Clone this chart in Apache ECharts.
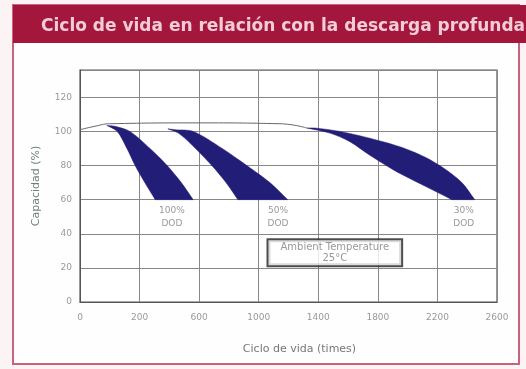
<!DOCTYPE html>
<html>
<head>
<meta charset="utf-8">
<script src="https://cdn.jsdelivr.net/npm/echarts@6/dist/echarts.min.js"></script>
<style>
html,body{margin:0;padding:0;background:#fcf3f5;}
#chart{width:526px;height:369px;}
</style>
</head>
<body>
<div id="chart"></div>
<script>
// Tick labels as printed on the reference x axis (one per grid column)
const xTickLabels = ['0', '200', '600', '1000', '1400', '1800', '2200', '2600'];

// Band outlines (axis units: x on the 0..2800 scale, y = capacity %)
// 100% DOD
const dod100LeftX  = [180, 250, 315, 370, 435, 505];
const dod100LeftY  = [103.5, 100, 90, 80, 70, 60];
const dod100RightX = [760, 680, 585, 470, 335, 235];
const dod100RightY = [60, 70, 80, 90, 100, 103];
// 50% DOD
const dod50LeftX  = [590, 660, 740, 885, 980, 1060];
const dod50LeftY  = [101.5, 99, 93, 80, 70, 60];
const dod50RightX = [1395, 1275, 1120, 955, 760, 640];
const dod50RightY = [60, 70, 80, 90, 100, 101];
// 30% DOD
const dod30LeftX  = [1523, 1678, 1812, 1946, 2114, 2315, 2497];
const dod30LeftY  = [102, 99, 94, 86, 77, 68, 60];
const dod30RightX = [2651, 2564, 2450, 2315, 2148, 1946, 1745, 1577];
const dod30RightY = [60, 70, 78, 85, 91, 96, 100, 102];

// Initial capacity envelope line
const envX = [0, 100, 200, 805, 1342, 1523];
const envY = [101, 103, 104.5, 105, 104.5, 102];

// Band labels
const bandLabels = ['100%\nDOD', '50%\nDOD', '30%\nDOD'];
const bandLabelX = [617, 1329, 2577];
const bandLabelY = [50, 50, 50];

const noteText = 'Ambient Temperature\n25°C';
const noteX = 1711, noteY = 28.8;

// outline: left edge top->bottom, right edge bottom->top; corners doubled so the
// smoothed outline keeps sharp tip and flat bottom corners
function outline(lx, ly, rx, ry) {
  const pts = [];
  for (let i = 0; i < lx.length; i++) {
    pts.push([lx[i], ly[i]]);
    if (i === 0 || i === lx.length - 1) pts.push([lx[i], ly[i]]);
  }
  for (let i = 0; i < rx.length; i++) {
    pts.push([rx[i], ry[i]]);
    if (i === 0) pts.push([rx[i], ry[i]]);
  }
  return pts;
}
const bands = [
  outline(dod100LeftX, dod100LeftY, dod100RightX, dod100RightY),
  outline(dod50LeftX, dod50LeftY, dod50RightX, dod50RightY),
  outline(dod30LeftX, dod30LeftY, dod30RightX, dod30RightY)
];

const chart = echarts.init(document.getElementById('chart'));
const bandColor = '#221d76';

const series = bands.map(function (pts) {
  return {
    type: 'custom',
    coordinateSystem: 'cartesian2d',
    data: pts,
    silent: true,
    z: 3,
    renderItem: function (params, api) {
      if (params.dataIndex !== 0) return null;
      const poly = pts.map(function (p) { return api.coord(p); });
      return {
        type: 'polygon',
        shape: { points: poly, smooth: 0.3 },
        style: { fill: bandColor, stroke: bandColor, lineWidth: 0.5 }
      };
    }
  };
});

series.push({
  type: 'line',
  data: envX.map(function (x, i) { return [x, envY[i]]; }),
  symbol: 'none',
  smooth: true,
  lineStyle: { color: '#666', width: 1 },
  z: 2,
  silent: true
});

series.push({
  type: 'scatter',
  symbolSize: 0,
  data: bandLabelX.map(function (x, i) { return [x, bandLabelY[i]]; }),
  label: {
    show: true,
    position: 'inside',
    formatter: function (p) { return bandLabels[p.dataIndex]; },
    color: '#808080',
    fontSize: 9,
    lineHeight: 13,
    fontFamily: 'DejaVu Sans'
  },
  silent: true,
  z: 4
});

series.push({
  type: 'scatter',
  symbolSize: 0,
  data: [[noteX, noteY]],
  label: {
    show: true,
    position: 'inside',
    formatter: noteText,
    color: '#808080',
    fontSize: 10,
    lineHeight: 11,
    fontFamily: 'DejaVu Sans',
    backgroundColor: '#fff',
    borderColor: '#222',
    borderWidth: 2,
    padding: [2, 12, 1, 12]
  },
  silent: true,
  z: 5
});

chart.setOption({
  animation: false,
  backgroundColor: 'transparent',
  graphic: [
    { type: 'rect', shape: { x: 13, y: 5, width: 506, height: 359 }, style: { fill: '#fffefe', stroke: '#c9627e', lineWidth: 2 }, z: -10 },
    { type: 'rect', shape: { x: 13, y: 5, width: 513, height: 38 }, style: { fill: '#a3173c' }, z: -9 }
  ],
  title: {
    text: 'Ciclo de vida en relación con la descarga profunda',
    left: 36,
    top: 13,
    textStyle: { color: '#f2cdd7', fontSize: 17, fontWeight: 'bold', fontFamily: 'DejaVu Sans' }
  },
  grid: {
    left: 80, right: 29, top: 70, bottom: 67,
    show: true, borderColor: '#555', borderWidth: 1.2, backgroundColor: '#fff'
  },
  xAxis: {
    type: 'value',
    min: 0, max: 2800, interval: 400,
    name: 'Ciclo de vida (times)',
    nameLocation: 'middle',
    nameGap: 42,
    nameTextStyle: { color: '#777', fontSize: 11, fontFamily: 'DejaVu Sans', padding: [0, 0, 0, 22] },
    axisLine: { show: true, lineStyle: { color: '#555' } },
    axisTick: { show: false },
    axisLabel: {
      color: '#999', fontSize: 9, margin: 11, fontFamily: 'DejaVu Sans',
      formatter: function (v) { return xTickLabels[Math.round(v / 400)]; }
    },
    splitLine: { show: true, lineStyle: { color: '#888', width: 1 } }
  },
  yAxis: {
    type: 'value',
    min: 0, max: 136, interval: 20,
    name: 'Capacidad (%)',
    nameLocation: 'middle',
    nameGap: 38,
    nameTextStyle: { color: '#6d7f78', fontSize: 11, fontFamily: 'DejaVu Sans' },
    axisLine: { show: true, lineStyle: { color: '#555' } },
    axisTick: { show: false },
    axisLabel: { color: '#999', fontSize: 9, margin: 8, fontFamily: 'DejaVu Sans', showMaxLabel: false },
    splitLine: { show: true, lineStyle: { color: '#888', width: 1 } }
  },
  series: series
});
</script>
</body>
</html>
